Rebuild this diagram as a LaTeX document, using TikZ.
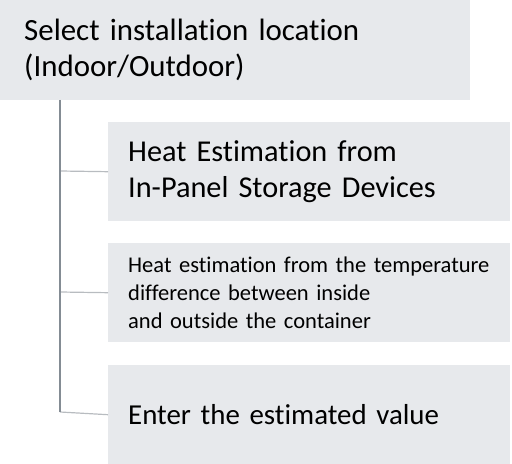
\documentclass[tikz,border=0pt]{standalone}
\usepackage{fontspec}
\setmainfont{Carlito}[Ligatures=NoCommon]
\definecolor{boxfill}{HTML}{E7E9EC}
\definecolor{trunk}{HTML}{848C94}
\definecolor{branch}{HTML}{B8BCC0}
\tikzset{
    stepbox/.style={fill=boxfill, anchor=north west, align=left, inner ysep=0pt,
        minimum height=99bp, inner xsep=20bp, text width=362bp},
}
\begin{document}
\begin{tikzpicture}[x=1bp,y=-1bp]
\useasboundingbox (0,0) rectangle (512,464);

\node[stepbox, inner xsep=24bp, text width=422bp, minimum height=100bp,
    font=\fontsize{31}{36}\selectfont\hyphenpenalty10000] (loc) at (0,0)
    {Select installation location\\(Indoor/Outdoor)};
\node[stepbox, font=\fontsize{30.4}{35.5}\selectfont\hyphenpenalty10000] (heat) at (108,122)
    {Heat Estimation from\\In-Panel Storage Devices};
\node[stepbox, font=\fontsize{22.6}{28.5}\selectfont\hyphenpenalty10000] (diff) at (108,243)
    {Heat estimation from the temperature\\difference between inside\\and outside the container};
\node[stepbox, font=\fontsize{29}{36}\selectfont\hyphenpenalty10000] (enter) at (108,365)
    {Enter the estimated value};

\coordinate (top) at (60,100);
\coordinate (end) at (60,412);
\draw [branch, line width=1.2bp] (60,171) -- (heat.west);
\draw [branch, line width=1.2bp] (60,292) -- (diff.west);
\draw [branch, line width=1.2bp] (end) -- (enter.west);
\draw [trunk, line width=1.2bp] (top) -- (end);
\end{tikzpicture}
\end{document}
